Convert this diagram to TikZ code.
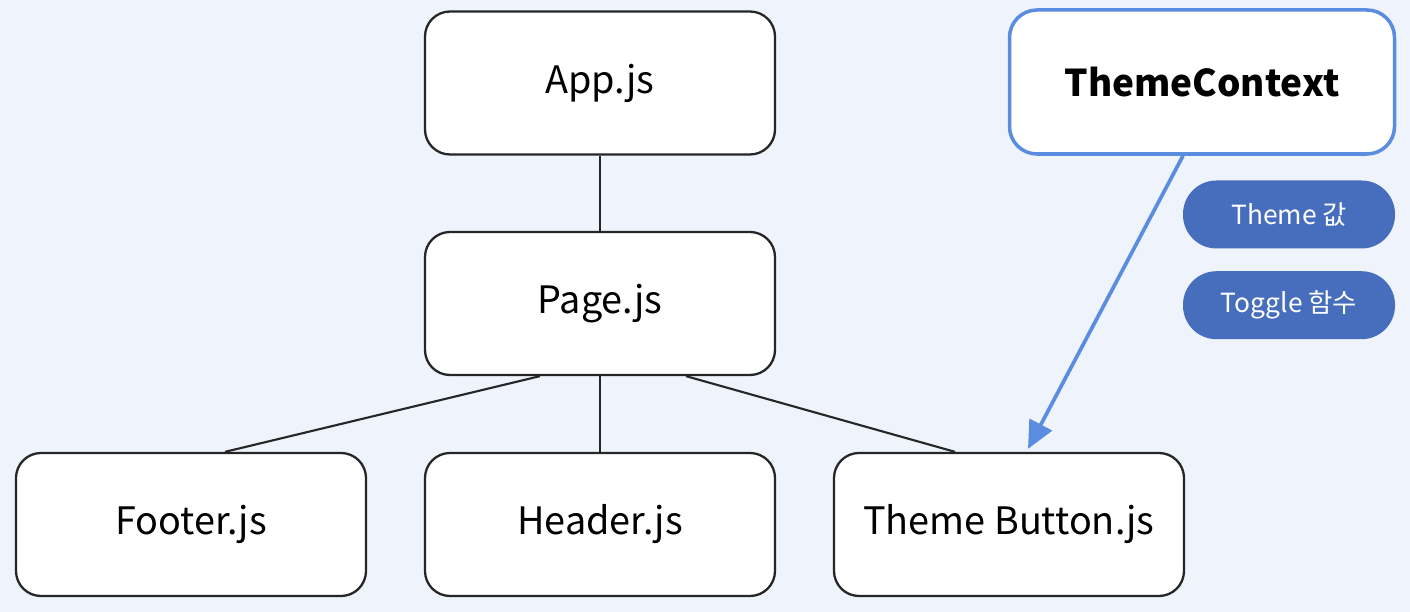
\documentclass[tikz,border=0pt]{standalone}
\usepackage{fontspec}
\setmainfont{Noto Sans CJK KR}
\usepackage{tikz}
\usetikzlibrary{positioning, calc, arrows.meta, shapes.geometric, backgrounds}
\definecolor{bgblue}{RGB}{238,243,252}
\definecolor{ctxblue}{RGB}{90,140,224}
\definecolor{pillblue}{RGB}{70,110,188}
\tikzset{
    filebox/.style={
        draw=black!85, line width=1.3pt, rounded corners=0.5cm, fill=white,
        minimum width=7cm, minimum height=2.86cm, font=\fontsize{21.5}{26}\selectfont
    },
    ctxbox/.style={
        draw=ctxblue, line width=2pt, rounded corners=0.55cm, fill=white,
        minimum width=7.7cm, minimum height=2.88cm, font=\fontsize{21}{26}\selectfont\bfseries
    },
    pill/.style={
        fill=pillblue, rounded corners=0.67cm, text=white,
        minimum width=4.24cm, minimum height=1.36cm, font=\fontsize{15}{18}\selectfont
    },
    link/.style={draw=black!85, line width=1.2pt},
    ctxptr/.style={-{Triangle[length=0.55cm, width=0.5cm]}, ctxblue, line width=2.1pt}
}
\begin{document}
\begin{tikzpicture}
    % --- khung nền ---
    \fill[bgblue] (0,0) rectangle (28.2,12.24);
    \useasboundingbox (0,0) rectangle (28.2,12.24);

    % --- cây component ---
    \node[filebox] (app) at (12,10.58) {App.js};
    \node[filebox] (page) at (12,6.17) {Page.js};
    \node[filebox] (footer) at (3.82,1.75) {Footer.js};
    \node[filebox] (header) at (12,1.75) {Header.js};
    \node[filebox] (button) at (20.18,1.75) {Theme Button.js};

    % --- context ---
    \node[ctxbox] (ctx) at (24.04,10.6) {ThemeContext};
    \node[pill] (themeval) at (25.78,7.95) {Theme 값};
    \node[pill, below=0.44cm of themeval] (togglefn) {Toggle 함수};

    % liên kết
    \draw[link] (app) -- (page);
    \draw[link] ($(page.south)+(-1.2,0)$) -- ($(footer.north)+(0.68,0)$);
    \draw[link] (page) -- (header);
    \draw[link] ($(page.south)+(1.72,0)$) -- ($(button.north)+(-1.08,0)$);

    % mũi tên context
    \draw[ctxptr] ($(ctx.south)+(-0.38,0)$) -- ($(button.north)+(0.38,0.06)$);
\end{tikzpicture}
\end{document}
